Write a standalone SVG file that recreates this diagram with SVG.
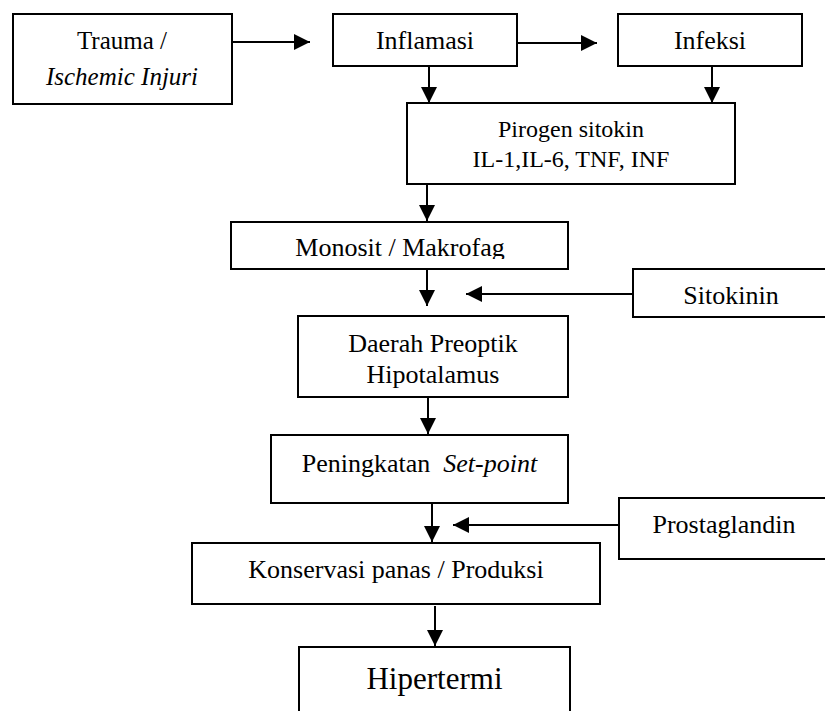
<svg xmlns="http://www.w3.org/2000/svg" width="825" height="711" viewBox="0 0 825 711">
  <style>
    .box { fill: #ffffff; stroke: #000000; stroke-width: 2; }
    .t { font-family: "Liberation Serif", "Times New Roman", serif; font-size: 26px; fill: #000000; text-anchor: middle; }
    .s { font-size: 24px; }
    .big { font-size: 31px; }
    .i { font-style: italic; }
    .c { stroke: #000000; stroke-width: 2; fill: none; marker-end: url(#arr); }
  </style>
  <defs>
    <marker id="arr" markerUnits="userSpaceOnUse" markerWidth="17" markerHeight="17" refX="16" refY="8" orient="auto">
      <path d="M0,0 L16,8 L0,16 Z" fill="#000000"/>
    </marker>
    <clipPath id="clipMono">
      <rect x="231" y="222" width="337" height="37"/>
    </clipPath>
  </defs>
  <rect width="825" height="711" fill="#ffffff"/>

  <g id="connectors">
    <line class="c" x1="232" y1="42" x2="310" y2="42"/>
    <line class="c" x1="517" y1="43" x2="597" y2="43"/>
    <line class="c" x1="429" y1="66" x2="429" y2="103"/>
    <line class="c" x1="712" y1="66" x2="712" y2="103"/>
    <line class="c" x1="427" y1="185" x2="427" y2="221"/>
    <line class="c" x1="427" y1="269" x2="427" y2="306"/>
    <line class="c" x1="633" y1="294" x2="466" y2="294"/>
    <line class="c" x1="428" y1="397" x2="428" y2="434"/>
    <line class="c" x1="432" y1="503" x2="432" y2="542"/>
    <line class="c" x1="619" y1="525" x2="453" y2="525"/>
    <line class="c" x1="435" y1="606" x2="435" y2="646"/>
  </g>

  <g id="trauma">
    <rect class="box" x="13" y="14" width="219" height="90"/>
    <text class="t" x="122" y="49" style="font-size:25px">Trauma /</text>
    <text class="t i" x="122" y="85" style="font-size:25px">Ischemic Injuri</text>
  </g>

  <g id="inflamasi">
    <rect class="box" x="333" y="14" width="184" height="52"/>
    <text class="t" x="425" y="49">Inflamasi</text>
  </g>

  <g id="infeksi">
    <rect class="box" x="618" y="14" width="184" height="52"/>
    <text class="t" x="710" y="49">Infeksi</text>
  </g>

  <g id="pirogen">
    <rect class="box" x="407" y="103" width="328" height="81"/>
    <text class="t s" x="571" y="137">Pirogen sitokin</text>
    <text class="t s" x="571" y="167">IL-1,IL-6, TNF, INF</text>
  </g>

  <g id="monosit">
    <rect class="box" x="231" y="222" width="337" height="47"/>
    <text class="t" x="400" y="256" clip-path="url(#clipMono)">Monosit / Makrofag</text>
  </g>

  <g id="sitokinin">
    <rect class="box" x="633" y="269" width="200" height="48"/>
    <text class="t" x="731" y="304">Sitokinin</text>
  </g>

  <g id="daerah">
    <rect class="box" x="298" y="316" width="270" height="81"/>
    <text class="t" x="433" y="352">Daerah Preoptik</text>
    <text class="t" x="433" y="383">Hipotalamus</text>
  </g>

  <g id="peningkatan">
    <rect class="box" x="271" y="435" width="297" height="68"/>
    <text class="t" x="419.5" y="472" xml:space="preserve">Peningkatan  <tspan class="i">Set-point</tspan></text>
  </g>

  <g id="prostaglandin">
    <rect class="box" x="619" y="498" width="214" height="61"/>
    <text class="t" x="724" y="533">Prostaglandin</text>
  </g>

  <g id="konservasi">
    <rect class="box" x="192" y="543" width="408" height="61"/>
    <text class="t" x="396" y="578">Konservasi panas / Produksi</text>
  </g>

  <g id="hipertermi">
    <rect class="box" x="299" y="647" width="271" height="80"/>
    <text class="t big" x="434.5" y="689">Hipertermi</text>
  </g>
</svg>
